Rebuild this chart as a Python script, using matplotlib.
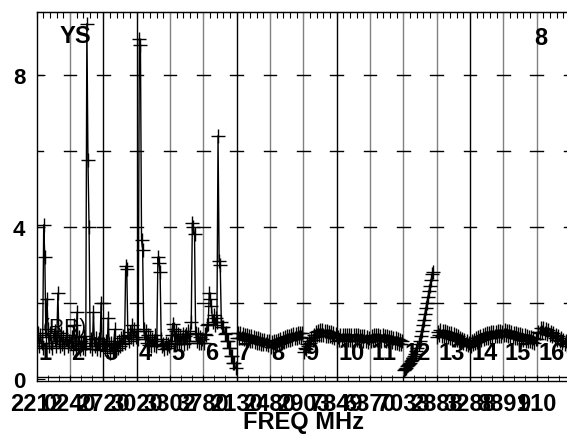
import numpy as np
import matplotlib
matplotlib.use("Agg")
import matplotlib.pyplot as plt
from matplotlib.ticker import FixedLocator, NullFormatter

plt.rcParams['font.family'] = ['Liberation Sans', 'DejaVu Sans']

# ---- data: one list of values per panel (16 panels, each one unit wide) ----
p1 = [1.0, 1.2, 0.85, 1.15, 0.95, 0.8, 4.05, 3.2, 1.1, 2.1, 1.3, 0.85, 1.2, 0.95, 0.8, 1.15, 1.25, 0.85, 1.1, 2.25,
      1.0, 0.85, 1.2, 0.9, 1.1, 0.8, 1.05, 1.15, 0.85, 1.0]
p2 = [0.95, 1.1, 0.8, 1.4, 1.0, 0.75, 1.75, 0.85, 1.1, 0.78, 1.0, 0.8, 1.12, 0.78, 0.95, 9.35, 5.75, 4.0, 0.85,
      1.05, 0.78, 1.75, 0.85, 1.08, 0.78, 0.95, 1.05, 0.75, 2.0, 0.9]
p3 = [0.9, 0.78, 1.0, 0.72, 1.6, 0.9, 0.68, 0.95, 0.74, 0.9, 1.3, 0.75, 0.95, 0.8, 1.0, 0.85, 1.08, 0.9, 1.12, 0.95,
      2.96, 2.9, 1.15, 1.0, 1.22, 1.1, 1.4, 1.05, 1.3, 1.1]
p4 = [1.25, 1.05, 8.95, 8.8, 3.65, 3.4, 1.3, 1.05, 1.25, 0.95, 1.15, 0.88, 1.1, 0.85, 1.05, 0.88, 1.15, 0.85, 1.0,
      3.2, 3.05, 2.8, 1.05, 0.85, 0.9, 0.78, 0.95, 0.8, 0.9, 0.85]
p5 = [1.0, 1.15, 1.45, 1.3, 0.98, 1.25, 0.95, 1.18, 0.9, 1.12, 0.95, 1.18, 0.9, 1.12, 1.18, 0.95, 1.25, 1.0, 1.18,
      1.5, 4.1, 4.0, 3.8, 1.2, 1.0, 1.18, 0.95, 1.1, 0.95, 1.05]
p6 = [0.95, 1.18, 1.15, 1.42, 1.45, 2.25, 2.1, 1.9, 1.5, 1.68, 1.4, 1.6, 1.5, 6.4, 3.1, 3.0, 1.5, 1.35, 1.35, 1.18,
      1.2, 1.0, 1.0, 0.8, 0.8, 0.6, 0.6, 0.42, 0.4, 0.28]
p7 = [1.08, 1.2, 1.06, 1.19, 1.07, 1.18, 1.04, 1.16, 1.03, 1.15, 1.01, 1.13, 1.0, 1.11, 0.98, 1.1, 0.97, 1.08, 0.95,
      1.06, 0.94, 1.05, 0.92, 1.03, 0.91, 1.02, 0.9, 1.0, 0.88, 0.98]
p8 = [0.84, 0.96, 0.85, 0.98, 0.88, 1.0, 0.9, 1.02, 0.92, 1.04, 0.95, 1.07, 0.97, 1.09, 0.99, 1.11, 1.01, 1.13, 1.03,
      1.15, 1.05, 1.17, 1.06, 1.18, 1.08, 1.2, 1.09, 1.21, 1.1, 1.2]
p9 = [0.7, 0.8, 0.78, 0.9, 0.86, 0.99, 0.95, 1.08, 1.03, 1.16, 1.1, 1.23, 1.14, 1.26, 1.16, 1.28, 1.15, 1.27, 1.14,
      1.26, 1.13, 1.25, 1.12, 1.24, 1.11, 1.22, 1.1, 1.21, 1.08, 1.18]
p10 = [0.98, 1.1, 1.03, 1.15, 1.02, 1.16, 1.03, 1.14, 1.01, 1.16, 1.02, 1.15, 1.03, 1.14, 1.0, 1.16, 1.02, 1.14, 1.01,
       1.15, 1.0, 1.13, 1.01, 1.12, 0.99, 1.11, 0.98, 1.1, 0.97, 1.06]
p11 = [1.0, 1.13, 1.02, 1.15, 1.01, 1.14, 1.03, 1.15, 1.01, 1.13, 1.0, 1.14, 1.01, 1.12, 0.99, 1.12, 0.99, 1.1, 0.97,
       1.09, 0.96, 1.08, 0.94, 1.06, 0.93, 1.04, 0.91, 1.02, 0.9, 0.98]
p12 = [0.22, 0.25, 0.28, 0.32, 0.35, 0.38, 0.42, 0.46, 0.5, 0.55, 0.6, 0.66, 0.72, 0.8, 0.9, 1.0, 1.12, 1.25, 1.4,
       1.55, 1.7, 1.85, 2.0, 2.15, 2.3, 2.45, 2.6, 2.75, 2.8]
p13 = [1.1, 1.24, 1.14, 1.27, 1.13, 1.26, 1.12, 1.25, 1.1, 1.23, 1.09, 1.21, 1.07, 1.19, 1.05, 1.17, 1.03, 1.14, 1.01,
       1.11, 0.98, 1.08, 0.96, 1.05, 0.93, 1.02, 0.9, 0.99, 0.88, 0.95]
p14 = [0.86, 0.98, 0.9, 1.02, 0.93, 1.06, 0.97, 1.1, 1.0, 1.13, 1.02, 1.15, 1.05, 1.17, 1.07, 1.2, 1.08, 1.21, 1.09,
       1.22, 1.1, 1.23, 1.11, 1.24, 1.12, 1.25, 1.13, 1.25, 1.13, 1.24]
p15 = [1.14, 1.27, 1.15, 1.26, 1.13, 1.25, 1.11, 1.23, 1.09, 1.21, 1.07, 1.19, 1.06, 1.18, 1.05, 1.17, 1.03, 1.15,
       1.02, 1.14, 1.0, 1.12, 0.99, 1.1, 0.98, 1.09, 0.96, 1.07, 0.95, 1.04]
p16 = [1.05, 1.22, 1.2, 1.33, 1.22, 1.33, 1.2, 1.3, 1.18, 1.27, 1.15, 1.24, 1.11, 1.2, 1.07, 1.16, 1.03, 1.12, 0.99,
       1.08, 0.95, 1.03, 0.91, 0.99, 0.87]
panels = [p1, p2, p3, p4, p5, p6, p7, p8, p9, p10, p11, p12, p13, p14, p15, p16]
panel_span = [0.97] * 11 + [0.9] + [0.97] * 3 + [0.92]   # fraction of panel covered by samples

panel_names = [str(i) for i in range(1, 17)]
freq_labels = ["2212", "0240", "2720", "3020", "3302", "3780", "2130", "2480", "2903", "7849",
               "6370", "7033", "2888", "3288", "8891", "910"]
boundary_colors = ['#808080', 'black', 'black', '#808080', '#808080', 'black', '#808080', '#808080',
                   'black', '#808080', '#808080', '#808080', 'black', '#808080', '#808080']
ytick_vals = [0, 4, 8]
cross_levels = [2, 4, 6, 8]

fig = plt.figure(figsize=(5.67, 4.35), dpi=100)
ax = fig.add_axes([36.5 / 567, 1 - 381.5 / 435, 1 - 36.5 / 567 + 0.005, (381.5 - 13.3) / 435])
ax.set_xlim(0, 16)
ax.set_ylim(-0.05, 9.65)

# panel boundary lines
for i, c in enumerate(boundary_colors, start=1):
    ax.plot([i, i], [-0.05, 9.65], color=c, lw=1.0, zorder=1)
# short crosses at grid levels
for b in range(0, 17):
    for lv in cross_levels:
        ax.plot([max(b - 0.19, 0), b + 0.19], [lv, lv], color='black', lw=1.0, zorder=1)
ax.axhline(0.05, color='black', lw=1.0, zorder=1)

# data
for i, (vals, span) in enumerate(zip(panels, panel_span)):
    xs = i + 0.02 + np.linspace(0, span - 0.02, len(vals))
    ax.plot(xs, vals, color='black', lw=1.0, marker='+', ms=9.5, mew=1.0, zorder=3)

# texts
for i, nm in enumerate(panel_names):
    ax.text(i + 0.05, 0.68, nm, fontsize=17, fontweight='bold', ha='left', va='center', zorder=4)
ax.text(0.2, 1.38, "(RR)", fontsize=15, ha='left', va='center', zorder=5)
ax.text(0.7, 9.03, "YS", fontsize=17, fontweight='bold', ha='left', va='center')
ax.text(14.94, 8.99, "8", fontsize=17, fontweight='bold', ha='left', va='center')

# axes styling
ax.spines['right'].set_visible(False)
for s in ['left', 'top', 'bottom']:
    ax.spines[s].set_linewidth(1.0)
ax.set_yticks(ytick_vals)
ax.set_yticklabels([str(v) for v in ytick_vals], fontsize=16, fontweight='bold')
ax.tick_params(axis='y', direction='in', length=6, pad=8)

ax.set_xticks(np.arange(0, 16, 1))
ax.set_xticklabels(freq_labels, fontsize=17, fontweight='bold')
ax.xaxis.set_minor_locator(FixedLocator(np.arange(0, 16, 1 / 3)))
ax.tick_params(axis='x', which='both', direction='in', length=4, pad=8, top=False)
ax.set_xlabel("FREQ MHz", fontsize=17, fontweight='bold', labelpad=-3)

top = ax.secondary_xaxis('top')
top.xaxis.set_major_locator(FixedLocator(np.arange(0, 16, 0.2)))
top.xaxis.set_major_formatter(NullFormatter())
top.tick_params(direction='in', length=4)

fig.savefig("out.png", dpi=100)
